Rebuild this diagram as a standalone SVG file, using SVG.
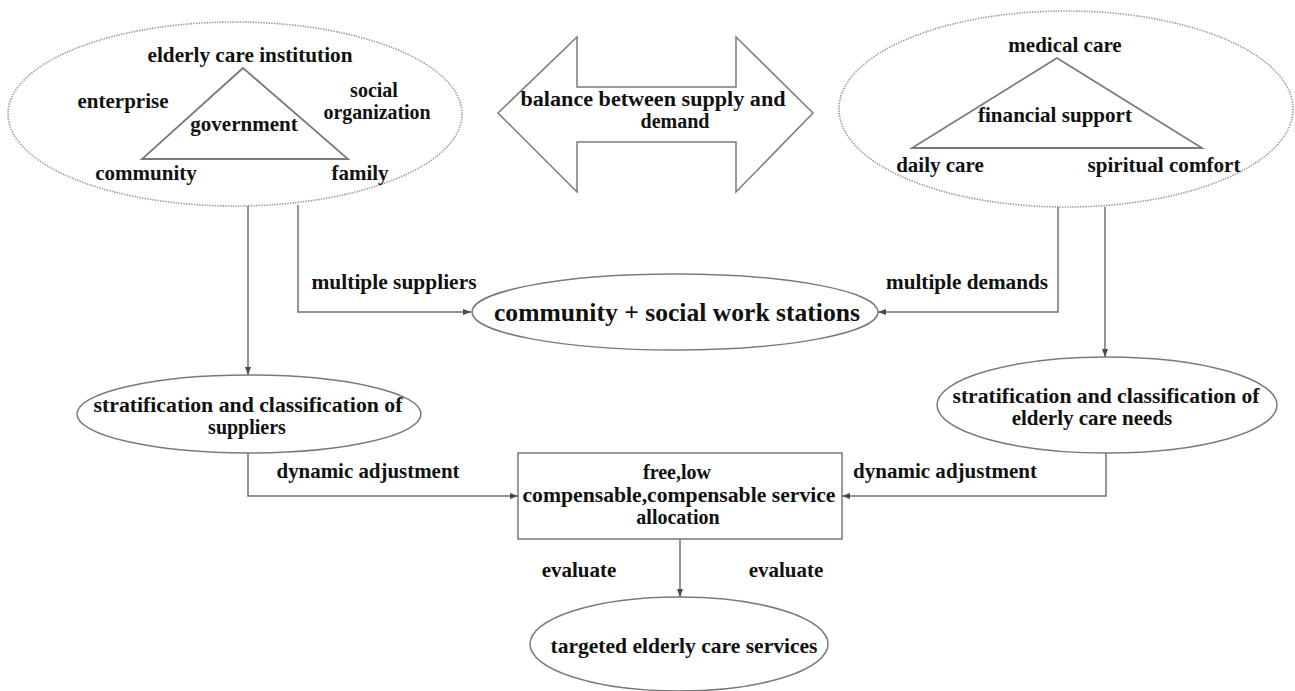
<svg xmlns="http://www.w3.org/2000/svg" width="1295" height="691" viewBox="0 0 1295 691">
  <style>
    text { font-family: "Liberation Serif", "Times New Roman", serif; font-weight: bold; font-size: 21px; fill: #111; text-anchor: middle; }
    .big { font-size: 24.5px; }
    .pair { font-size: 20px; }
    .dotted { fill: none; stroke: #9a9a9a; stroke-width: 1.6; stroke-dasharray: 1.4 1.2; }
    .outline { fill: none; stroke: #7a7a7a; stroke-width: 1.5; }
    .tri { fill: none; stroke: #7a7a7a; stroke-width: 1.8; stroke-linejoin: miter; }
    .conn { fill: none; stroke: #707070; stroke-width: 1.5; }
  </style>
  <defs>
    <marker id="arrow" viewBox="0 0 8 8" refX="8" refY="4" markerWidth="8" markerHeight="8" markerUnits="userSpaceOnUse" orient="auto">
      <path d="M0,1 L8,4 L0,7 Z" fill="#4a4a4a"/>
    </marker>
  </defs>
  <rect width="1295" height="691" fill="#fff"/>

  <!-- supply side: providers -->
  <g id="suppliers">
    <ellipse class="dotted" cx="235" cy="114" rx="227" ry="92"/>
    <polygon class="tri" points="243,68 142,159 348,159"/>
    <text x="250" y="62" textLength="205" lengthAdjust="spacingAndGlyphs">elderly care institution</text>
    <text x="123" y="108">enterprise</text>
    <text x="244" y="131">government</text>
    <text class="pair" x="374" y="97">social</text>
    <text class="pair" x="377" y="119" textLength="107" lengthAdjust="spacingAndGlyphs">organization</text>
    <text x="146" y="180">community</text>
    <text x="360" y="180">family</text>
  </g>

  <!-- demand side: needs -->
  <g id="demands">
    <ellipse class="dotted" cx="1066" cy="109" rx="227" ry="98"/>
    <polygon class="tri" points="1057,58 912,148 1202,148"/>
    <text x="1065" y="52">medical care</text>
    <text x="1055" y="122" textLength="154" lengthAdjust="spacingAndGlyphs">financial support</text>
    <text x="940" y="172">daily care</text>
    <text x="1164" y="172" textLength="153" lengthAdjust="spacingAndGlyphs">spiritual comfort</text>
  </g>

  <!-- double-headed balance arrow -->
  <g id="balance">
    <polygon class="outline" points="498,113 577,37 577,87 736,87 736,37 813,113 736,192 736,142 577,142 577,192"/>
    <text class="pair" x="653" y="106" textLength="265" lengthAdjust="spacingAndGlyphs">balance between supply and</text>
    <text class="pair" x="675" y="128">demand</text>
  </g>

  <g id="stations">
    <ellipse class="outline" cx="675" cy="312" rx="203" ry="38"/>
    <text class="big" x="677" y="321" textLength="366" lengthAdjust="spacingAndGlyphs">community + social work stations</text>
  </g>

  <g id="supplier-classes">
    <ellipse class="outline" cx="249" cy="414" rx="172" ry="39"/>
    <text class="pair" x="248" y="412" textLength="309" lengthAdjust="spacingAndGlyphs">stratification and classification of</text>
    <text class="pair" x="247" y="434">suppliers</text>
  </g>

  <g id="need-classes">
    <ellipse class="outline" cx="1107" cy="405" rx="170" ry="48"/>
    <text class="pair" x="1106" y="403" textLength="307" lengthAdjust="spacingAndGlyphs">stratification and classification of</text>
    <text x="1092" y="425">elderly care needs</text>
  </g>

  <g id="allocation">
    <rect class="outline" x="518" y="453" width="324" height="86"/>
    <text class="pair" x="677" y="479">free,low</text>
    <text class="pair" x="679" y="502" textLength="313" lengthAdjust="spacingAndGlyphs">compensable,compensable service</text>
    <text class="pair" x="678" y="524">allocation</text>
  </g>

  <g id="targeted">
    <ellipse class="outline" cx="679" cy="644" rx="149" ry="47"/>
    <text x="684" y="653" textLength="267" lengthAdjust="spacingAndGlyphs">targeted elderly care services</text>
  </g>

  <!-- connectors -->
  <g id="connectors">
    <path class="conn" d="M298,205 V312 H471" marker-end="url(#arrow)"/>
    <path class="conn" d="M1058,207 V312 H878" marker-end="url(#arrow)"/>
    <path class="conn" d="M248,206 V375" marker-end="url(#arrow)"/>
    <path class="conn" d="M1105,207 V357" marker-end="url(#arrow)"/>
    <path class="conn" d="M248,453 V496 H518" marker-end="url(#arrow)"/>
    <path class="conn" d="M1106,453 V496 H842" marker-end="url(#arrow)"/>
    <path class="conn" d="M680,539 V597" marker-end="url(#arrow)"/>
  </g>

  <!-- connector labels -->
  <g id="labels">
    <text x="394" y="289" textLength="165" lengthAdjust="spacingAndGlyphs">multiple suppliers</text>
    <text x="967" y="289" textLength="162" lengthAdjust="spacingAndGlyphs">multiple demands</text>
    <text x="368" y="478" textLength="183" lengthAdjust="spacingAndGlyphs">dynamic adjustment</text>
    <text x="945" y="478" textLength="184" lengthAdjust="spacingAndGlyphs">dynamic adjustment</text>
    <text x="579" y="577">evaluate</text>
    <text x="786" y="577">evaluate</text>
  </g>
</svg>
